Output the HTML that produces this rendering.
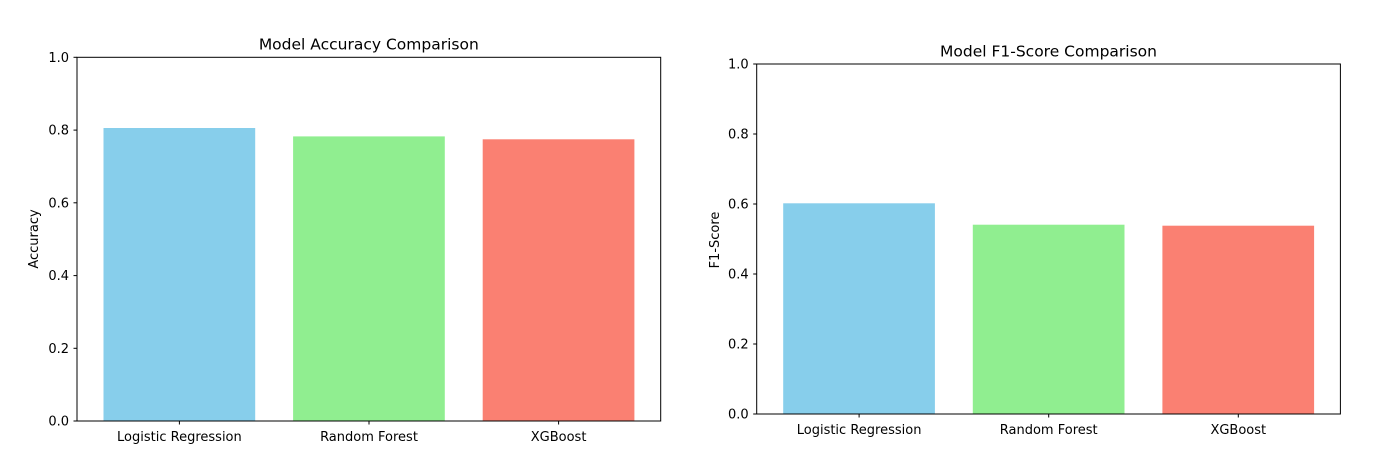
<!DOCTYPE html>
<html><head><meta charset="utf-8"><style>body{margin:0;background:#fff}svg{display:block}text{font-family:"DejaVu Sans","Liberation Sans",sans-serif;fill:#000}</style></head><body>
<svg width="1380" height="467" viewBox="0 0 1380 467">
<rect width="1380" height="467" fill="#fff"/>
<!-- Left -->
<g>
<rect x="103.5" y="128" width="151.7" height="293" fill="#87ceeb"/>
<rect x="293.1" y="136.4" width="151.7" height="284.6" fill="#90ee90"/>
<rect x="482.7" y="139.3" width="151.7" height="281.7" fill="#fa8072"/>
<rect x="77" y="57.3" width="583.7" height="363.7" fill="none" stroke="#000" stroke-width="1"/>
<g stroke="#000"><line x1="73.5" x2="77" y1="421" y2="421"/><line x1="73.5" x2="77" y1="348.3" y2="348.3"/><line x1="73.5" x2="77" y1="275.6" y2="275.6"/><line x1="73.5" x2="77" y1="202.8" y2="202.8"/><line x1="73.5" x2="77" y1="130.1" y2="130.1"/><line x1="73.5" x2="77" y1="57.3" y2="57.3"/>
<line x1="179.4" x2="179.4" y1="421" y2="424.5"/><line x1="369" x2="369" y1="421" y2="424.5"/><line x1="558.6" x2="558.6" y1="421" y2="424.5"/></g>
<g font-size="13" text-anchor="end"><text x="69" y="425.5">0.0</text><text x="69" y="352.8">0.2</text><text x="69" y="280.1">0.4</text><text x="69" y="207.3">0.6</text><text x="69" y="134.6">0.8</text><text x="69" y="61.8">1.0</text></g>
<g font-size="13" text-anchor="middle"><text x="179.4" y="441">Logistic Regression</text><text x="369" y="441">Random Forest</text><text x="558.6" y="441">XGBoost</text></g>
<text x="368.8" y="49.5" font-size="15.5" text-anchor="middle">Model Accuracy Comparison</text>
<text transform="translate(38,239) rotate(-90)" font-size="13" text-anchor="middle">Accuracy</text>
</g>
<!-- Right -->
<g>
<rect x="783.2" y="203.3" width="151.7" height="210.7" fill="#87ceeb"/>
<rect x="972.8" y="224.7" width="151.7" height="189.3" fill="#90ee90"/>
<rect x="1162.4" y="225.7" width="151.7" height="188.3" fill="#fa8072"/>
<rect x="756.7" y="64" width="583.7" height="350" fill="none" stroke="#000" stroke-width="1"/>
<g stroke="#000"><line x1="753.2" x2="756.7" y1="414" y2="414"/><line x1="753.2" x2="756.7" y1="344" y2="344"/><line x1="753.2" x2="756.7" y1="274" y2="274"/><line x1="753.2" x2="756.7" y1="204" y2="204"/><line x1="753.2" x2="756.7" y1="134" y2="134"/><line x1="753.2" x2="756.7" y1="64" y2="64"/>
<line x1="859.1" x2="859.1" y1="414" y2="417.5"/><line x1="1048.7" x2="1048.7" y1="414" y2="417.5"/><line x1="1238.3" x2="1238.3" y1="414" y2="417.5"/></g>
<g font-size="13" text-anchor="end"><text x="748.7" y="418.5">0.0</text><text x="748.7" y="348.5">0.2</text><text x="748.7" y="278.5">0.4</text><text x="748.7" y="208.5">0.6</text><text x="748.7" y="138.5">0.8</text><text x="748.7" y="68.5">1.0</text></g>
<g font-size="13" text-anchor="middle"><text x="859.1" y="434">Logistic Regression</text><text x="1048.7" y="434">Random Forest</text><text x="1238.3" y="434">XGBoost</text></g>
<text x="1048.5" y="56.5" font-size="15.5" text-anchor="middle">Model F1-Score Comparison</text>
<text transform="translate(719,240) rotate(-90)" font-size="13" text-anchor="middle">F1-Score</text>
</g>
</svg>
</body></html>
